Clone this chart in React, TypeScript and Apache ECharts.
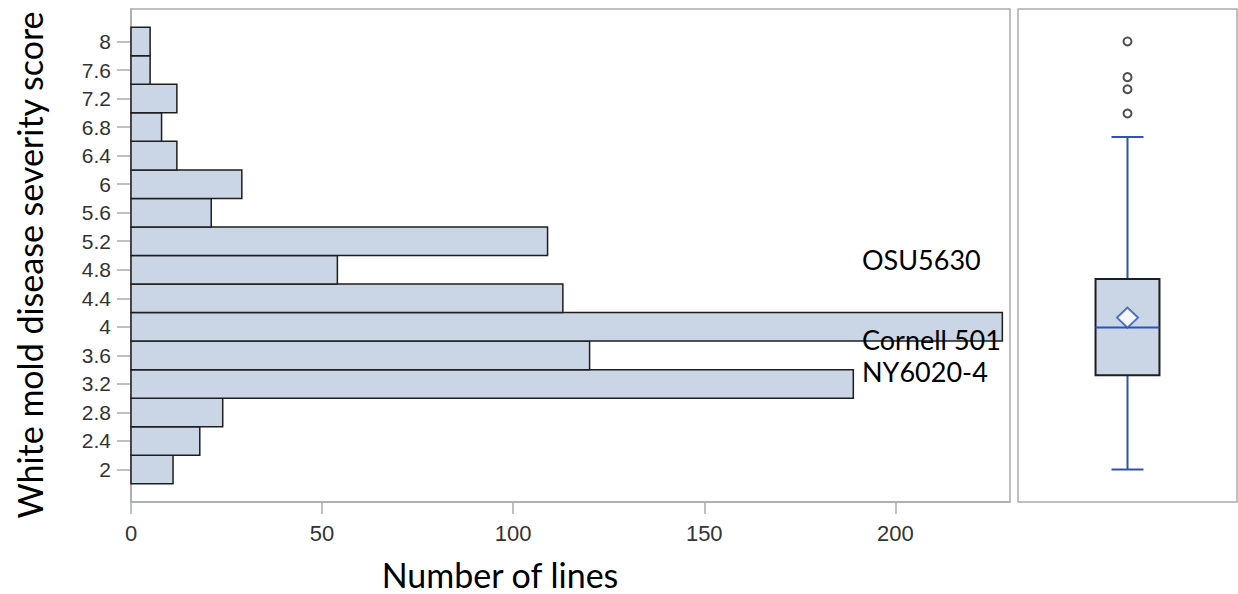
import React, { useEffect, useRef } from "react";
import * as echarts from "echarts";

// Histogram bins (bin centres, score) and counts (number of lines)
const binCenters = [2, 2.4, 2.8, 3.2, 3.6, 4, 4.4, 4.8, 5.2, 5.6, 6, 6.4, 6.8, 7.2, 7.6, 8];
const binCounts = [11, 18, 24, 189, 120, 228, 113, 54, 109, 21, 29, 12, 8, 12, 5, 5];
const yTickLabels = ["2", "2.4", "2.8", "3.2", "3.6", "4", "4.4", "4.8", "5.2", "5.6", "6", "6.4", "6.8", "7.2", "7.6", "8"];
const xTicks = [0, 50, 100, 150, 200];

// Box plot summary: [min, q1, median, q3, max]
const boxStats = [2.0, 3.32, 3.99, 4.67, 6.66];
const boxMean = 4.13;
const outliers = [8.0, 7.5, 7.33, 6.99];

// Annotations
const annotations = [
  { text: "OSU5630", y: 259 },
  { text: "Cornell 501", y: 339 },
  { text: "NY6020-4", y: 371 },
];

const BIN_WIDTH = 0.4;
const Y_MIN = 1.545;
const Y_MAX = 8.455;
const FILL = "#cad5e6";
const BLUE = "#2b54b6";
const FRAME = "#a9acae";

export default function App() {
  const ref = useRef<HTMLDivElement>(null);
  useEffect(() => {
    if (!ref.current) return;
    const chart = echarts.init(ref.current, null, { renderer: "svg" });
    const yVals = yTickLabels.map(Number);
    const option: any = {
      animation: false,
      backgroundColor: "#ffffff",
      grid: [
        { left: 131, top: 9, width: 879, height: 493, show: true, borderColor: FRAME, borderWidth: 1.5, backgroundColor: "transparent" },
        { left: 1018, top: 9, width: 219, height: 493, show: true, borderColor: FRAME, borderWidth: 1.5, backgroundColor: "transparent" },
      ],
      xAxis: [
        {
          type: "value", gridIndex: 0, min: 0, max: 230, interval: 50,
          axisLine: { show: true, lineStyle: { color: FRAME, width: 1.5 } },
          axisTick: { show: true, length: 12, lineStyle: { color: FRAME, width: 1.5 }, customValues: xTicks },
          axisLabel: { fontSize: 22, color: "#333", margin: 20, fontFamily: "Liberation Sans", customValues: xTicks },
          splitLine: { show: false },
        },
        { type: "value", gridIndex: 1, min: 0, max: 1, show: false },
      ],
      yAxis: [
        {
          type: "value", gridIndex: 0, min: Y_MIN, max: Y_MAX,
          axisLine: { show: true, lineStyle: { color: FRAME, width: 1.5 } },
          axisTick: { show: true, length: 14, lineStyle: { color: FRAME, width: 1.5 }, customValues: yVals },
          axisLabel: {
            fontSize: 21, color: "#333", margin: 20, fontFamily: "Liberation Sans", customValues: yVals,
            formatter: (v: number) => {
              const i = yVals.findIndex((t) => Math.abs(t - v) < 1e-6);
              return i >= 0 ? yTickLabels[i] : "";
            },
          },
          splitLine: { show: false },
        },
        { type: "value", gridIndex: 1, min: Y_MIN, max: Y_MAX, show: false },
      ],
      series: [
        {
          type: "custom",
          xAxisIndex: 0,
          yAxisIndex: 0,
          data: binCenters.map((c, i) => [c, binCounts[i]]),
          renderItem: (params: any, api: any) => {
            const c = api.value(0);
            const n = api.value(1);
            const p1 = api.coord([0, c + BIN_WIDTH / 2]);
            const p2 = api.coord([n, c - BIN_WIDTH / 2]);
            return {
              type: "rect",
              shape: { x: p1[0], y: p1[1], width: p2[0] - p1[0], height: p2[1] - p1[1] },
              style: { fill: FILL, stroke: "#1e1e1e", lineWidth: 1.5 },
            };
          },
        },
        {
          type: "custom",
          xAxisIndex: 1,
          yAxisIndex: 1,
          data: [[0.5, ...boxStats]],
          renderItem: (params: any, api: any) => {
            const xc = api.value(0);
            const [mn, q1, md, q3, mx] = [1, 2, 3, 4, 5].map((k) => api.value(k));
            const halfBox = 0.146;
            const halfCap = 0.073;
            const c = (x: number, y: number) => api.coord([x, y]);
            const pMin = c(xc, mn), pMax = c(xc, mx), pQ1 = c(xc, q1), pQ3 = c(xc, q3);
            const bl = c(xc - halfBox, q3), br = c(xc + halfBox, q1);
            const capL = c(xc - halfCap, 0)[0], capR = c(xc + halfCap, 0)[0];
            const line = (x1: number, y1: number, x2: number, y2: number) => ({
              type: "line",
              shape: { x1, y1, x2, y2 },
              style: { stroke: BLUE, lineWidth: 2 },
            });
            const pMd = c(xc, md);
            return {
              type: "group",
              children: [
                line(pMax[0], pMax[1], pQ3[0], pQ3[1]),
                line(pMin[0], pMin[1], pQ1[0], pQ1[1]),
                line(capL, pMax[1], capR, pMax[1]),
                line(capL, pMin[1], capR, pMin[1]),
                {
                  type: "rect",
                  shape: { x: bl[0], y: bl[1], width: br[0] - bl[0], height: br[1] - bl[1] },
                  style: { fill: FILL, stroke: "#1e1e1e", lineWidth: 2 },
                },
                line(bl[0], pMd[1], br[0], pMd[1]),
              ],
            };
          },
        },
        {
          type: "scatter",
          xAxisIndex: 1,
          yAxisIndex: 1,
          data: outliers.map((v) => [0.5, v]),
          symbol: "emptyCircle",
          symbolSize: 8,
          itemStyle: { color: "#222", borderColor: "#222", borderWidth: 2.2 },
          z: 5,
        },
        {
          type: "scatter",
          xAxisIndex: 1,
          yAxisIndex: 1,
          data: [[0.5, boxMean]],
          symbol: "emptyDiamond",
          symbolSize: [21, 20],
          itemStyle: { color: BLUE, borderColor: BLUE, borderWidth: 1.5 },
          z: 5,
        },
      ],
      graphic: [
        ...annotations.map((a) => ({
          type: "text",
          x: 862,
          y: a.y,
          z: 100,
          style: { text: a.text, fontSize: 27, lineHeight: 24, fontFamily: "Lato", fill: "#000", textAlign: "left", textVerticalAlign: "middle" },
        })),
        {
          type: "text",
          x: 500,
          y: 574,
          style: { text: "Number of lines", fontSize: 34, fontFamily: "Lato", fill: "#000", textAlign: "center", textVerticalAlign: "middle" },
        },
        {
          type: "text",
          x: 29,
          y: 265,
          rotation: Math.PI / 2,
          style: { text: "White mold disease severity score", fontSize: 34, fontFamily: "Lato", fill: "#000", textAlign: "center", textVerticalAlign: "middle" },
        },
      ],
    };
    chart.setOption(option);
    return () => chart.dispose();
  }, []);
  return (
    <div
      ref={ref}
      style={{ position: "fixed", left: 0, top: 0, width: 1238, height: 594, background: "#fff" }}
    />
  );
}
